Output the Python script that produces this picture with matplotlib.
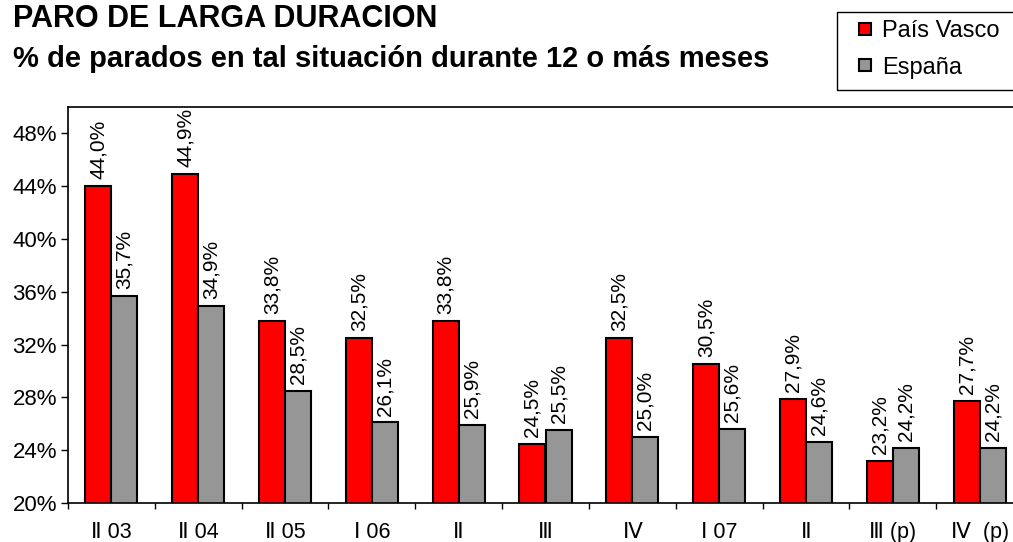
import numpy as np
import matplotlib.pyplot as plt
from matplotlib.lines import Line2D
from matplotlib.patches import Rectangle
from matplotlib.ticker import FixedLocator, FuncFormatter

plt.rcParams['font.family'] = ['Liberation Sans', 'DejaVu Sans']

# Data
categories = ["\u2161 03", "\u2161 04", "\u2161 05", "\u2160 06", "\u2161", "\u2162",
              "\u2163", "\u2160 07", "\u2161", "\u2162 (p)", "\u2163  (p)"]
pais_vasco = [44.0, 44.9, 33.8, 32.5, 33.8, 24.5, 32.5, 30.5, 27.9, 23.2, 27.7]
espana = [35.7, 34.9, 28.5, 26.1, 25.9, 25.5, 25.0, 25.6, 24.6, 24.2, 24.2]
y_ticks = [20, 24, 28, 32, 36, 40, 44, 48]

RED = '#ff0000'
GREY = '#969696'

W, H = 1013, 542
fig = plt.figure(figsize=(W / 100, H / 100), dpi=100)
ax = fig.add_axes([68 / W, 1 - 503 / H, (1023 - 68) / W, (503 - 107) / H])

x = np.arange(len(categories))
bw = 0.3
bars_pv = ax.bar(x - bw / 2, pais_vasco, bw, color=RED,
                 edgecolor='black', linewidth=1.5)
bars_es = ax.bar(x + bw / 2, espana, bw, color=GREY,
                 edgecolor='black', linewidth=1.5)

# Value labels, rotated, just above each bar
for bars, vals in [(bars_pv, pais_vasco), (bars_es, espana)]:
    for b, v in zip(bars, vals):
        ax.annotate(f"{v:.1f}%".replace('.', ','),
                    (b.get_x() + b.get_width() / 2, v),
                    xytext=(0, 5), textcoords='offset points',
                    rotation=90, ha='center', va='bottom', fontsize=15,
                    annotation_clip=False)

ax.set_xlim(-0.5, len(categories) - 0.5)
ax.set_ylim(20, 50)
ax.yaxis.set_major_locator(FixedLocator(y_ticks))
ax.yaxis.set_major_formatter(FuncFormatter(lambda v, p: f"{v:.0f}%"))
ax.tick_params(axis='y', labelsize=16, direction='out', length=5, width=1, pad=3)

# Group separator ticks, labels at group centres
ax.set_xticks(np.arange(len(categories) + 1) - 0.5)
ax.set_xticklabels([])
ax.set_xticks(x, minor=True)
ax.set_xticklabels(categories, minor=True)
ax.tick_params(axis='x', which='major', direction='out', length=4, width=1)
ax.tick_params(axis='x', which='minor', length=0, pad=14, labelsize=15.5)

for s in ax.spines.values():
    s.set_linewidth(1.2)

fig.text(13 / W, 1 - 27 / H, "PARO DE LARGA DURACION", fontsize=22,
         fontweight='bold', ha='left', va='baseline')
fig.text(13 / W, 1 - 67 / H, "% de parados en tal situación durante 12 o más meses",
         fontsize=21, fontweight='bold', ha='left', va='baseline')

# Legend: box runs off the right edge of the picture, so draw it by hand
fig.patches.append(Rectangle((837 / W, 1 - 90 / H), (1020 - 837) / W, 78 / H,
                             transform=fig.transFigure, fill=False,
                             edgecolor='black', linewidth=1.0))
handles = [Line2D([], [], ls='none', marker='s', markersize=8.6, markerfacecolor=c,
                  markeredgecolor='black', markeredgewidth=1.5) for c in (RED, GREY)]
fig.legend(handles, ['País Vasco', 'España'], loc='upper left',
           bbox_to_anchor=(837 / W, 1 - 13 / H), borderaxespad=0,
           fontsize=17, frameon=False,
           handlelength=1.8, handletextpad=-0.2,
           borderpad=0.3, labelspacing=0.62)

fig.savefig('out.png', dpi=100)
